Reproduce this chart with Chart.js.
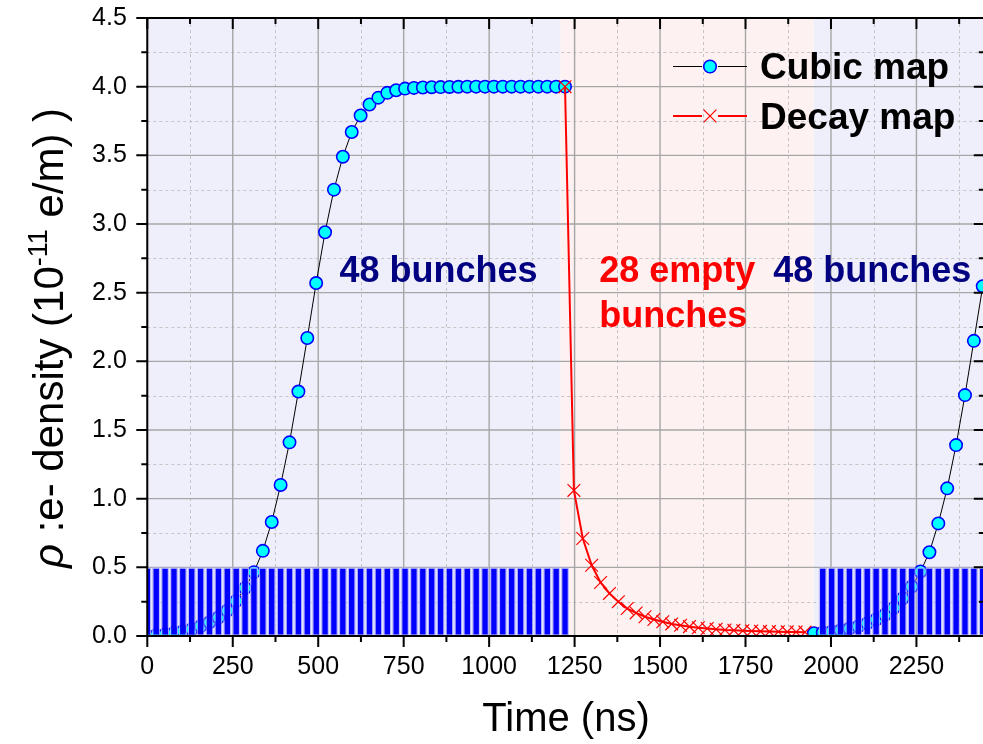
<!DOCTYPE html>
<html>
<head>
<meta charset="utf-8">
<script src="https://cdn.jsdelivr.net/npm/chart.js@4.4.1/dist/chart.umd.min.js"></script>
<style>
  html, body { margin: 0; padding: 0; background: #ffffff; overflow: hidden; }
  #wrap { width: 983px; height: 744px; overflow: hidden; position: relative; }
  canvas { display: block; }
</style>
</head>
<body>
<div id="wrap"><canvas id="chart" width="995" height="744" style="width:995px;height:744px"></canvas></div>
<script>
// ---- Axis ticks ----
const xTicks = [0, 250, 500, 750, 1000, 1250, 1500, 1750, 2000, 2250];
const yTicks = [0, 0.5, 1.0, 1.5, 2.0, 2.5, 3.0, 3.5, 4.0, 4.5];

// ---- Filled bunch slots (ns) and their marker height ----
const bunchTimesFirst = [0, 26, 52, 78, 104, 130, 156, 182, 208, 234, 260, 286, 312, 338, 364, 390,
  416, 442, 468, 494, 520, 546, 572, 598, 624, 650, 676, 702, 728, 754, 780, 806,
  832, 858, 884, 910, 936, 962, 988, 1014, 1040, 1066, 1092, 1118, 1144, 1170, 1196, 1222];
const bunchLevelsFirst = [0.5, 0.5, 0.5, 0.5, 0.5, 0.5, 0.5, 0.5, 0.5, 0.5, 0.5, 0.5, 0.5, 0.5, 0.5, 0.5,
  0.5, 0.5, 0.5, 0.5, 0.5, 0.5, 0.5, 0.5, 0.5, 0.5, 0.5, 0.5, 0.5, 0.5, 0.5, 0.5,
  0.5, 0.5, 0.5, 0.5, 0.5, 0.5, 0.5, 0.5, 0.5, 0.5, 0.5, 0.5, 0.5, 0.5, 0.5, 0.5];
const bunchTimesSecond = [1976, 2002, 2028, 2054, 2080, 2106, 2132, 2158, 2184, 2210,
  2236, 2262, 2288, 2314, 2340, 2366, 2392, 2418, 2444];
const bunchLevelsSecond = [0.5, 0.5, 0.5, 0.5, 0.5, 0.5, 0.5, 0.5, 0.5, 0.5,
  0.5, 0.5, 0.5, 0.5, 0.5, 0.5, 0.5, 0.5, 0.5];

// ---- Cubic map: e- density build-up during the bunch trains ----
const cubicTimesFirst = bunchTimesFirst;
const cubicValuesFirst = [0.0, 0.005, 0.012, 0.022, 0.035, 0.05, 0.072, 0.1, 0.135, 0.185, 0.255, 0.35,
  0.465, 0.62, 0.83, 1.10, 1.41, 1.78, 2.17, 2.57, 2.94, 3.25, 3.49, 3.67,
  3.79, 3.87, 3.92, 3.955, 3.974, 3.986, 3.991, 3.994, 3.996, 3.997, 3.998, 3.999,
  4.0, 4.0, 4.0, 4.0, 4.0, 4.0, 4.0, 4.0, 4.0, 4.0, 4.0, 4.0];
const cubicTimesSecond = [1950, 1976, 2002, 2028, 2054, 2080, 2106, 2132, 2158, 2184,
  2210, 2236, 2262, 2288, 2314, 2340, 2366, 2392, 2418, 2444];
const cubicValuesSecond = [0.02, 0.025, 0.032, 0.042, 0.055, 0.07, 0.092, 0.12, 0.155, 0.205,
  0.275, 0.36, 0.47, 0.61, 0.82, 1.075, 1.39, 1.754, 2.149, 2.547];

// ---- Decay map: density decay over the empty bunch slots ----
const decayTimes = [1222, 1248, 1274, 1300, 1326, 1352, 1378, 1404, 1430, 1456, 1482, 1508, 1534, 1560,
  1586, 1612, 1638, 1664, 1690, 1716, 1742, 1768, 1794, 1820, 1846, 1872, 1898, 1924];
const decayValues = [4.0, 1.06, 0.71, 0.515, 0.39, 0.31, 0.25, 0.20, 0.168, 0.14, 0.12, 0.104, 0.088, 0.078,
  0.068, 0.06, 0.055, 0.049, 0.044, 0.041, 0.038, 0.036, 0.034, 0.032, 0.031, 0.03, 0.029, 0.028];

// ---- Shaded regions (ns): trains and the empty gap ----
const trainSpans = [[0, 1209], [1949, 2450]];
const emptySpan = [1209, 1949];

const FONT = '"Liberation Sans", Arial, Helvetica, sans-serif';
const toPoints = (xs, ys) => xs.map((x, i) => ({ x: x, y: ys[i] }));

const decorations = {
  id: 'decorations',
  beforeDraw(chart) {
    const { ctx, chartArea: a, scales: { x } } = chart;
    ctx.save();
    ctx.fillStyle = '#EFEFFC';
    trainSpans.forEach(([s, e]) => {
      const l = Math.max(a.left, x.getPixelForValue(s));
      const r = Math.min(a.right, x.getPixelForValue(e));
      ctx.fillRect(l, a.top, r - l, a.bottom - a.top);
    });
    ctx.fillStyle = '#FDF1F1';
    const l = x.getPixelForValue(emptySpan[0]);
    const r = x.getPixelForValue(emptySpan[1]);
    ctx.fillRect(l, a.top, r - l, a.bottom - a.top);
    ctx.restore();
  },
  beforeDatasetsDraw(chart) {
    const { ctx, chartArea: a, scales: { x, y } } = chart;
    ctx.save();
    // minor grid (dotted)
    ctx.strokeStyle = '#C4C4C4';
    ctx.lineWidth = 1;
    ctx.setLineDash([3, 3]);
    for (let i = 0; i < xTicks.length; i++) {
      const v = xTicks[i] + 125;
      if (v >= x.max) break;
      const px = Math.round(x.getPixelForValue(v)) + 0.5;
      ctx.beginPath(); ctx.moveTo(px, a.top); ctx.lineTo(px, a.bottom); ctx.stroke();
    }
    for (let i = 0; i < yTicks.length - 1; i++) {
      const py = Math.round(y.getPixelForValue(yTicks[i] + 0.25)) + 0.5;
      ctx.beginPath(); ctx.moveTo(a.left, py); ctx.lineTo(a.right, py); ctx.stroke();
    }
    // major grid (solid)
    ctx.setLineDash([]);
    ctx.strokeStyle = '#A6A6A6';
    ctx.lineWidth = 1.4;
    xTicks.forEach(v => {
      const px = x.getPixelForValue(v);
      ctx.beginPath(); ctx.moveTo(px, a.top); ctx.lineTo(px, a.bottom); ctx.stroke();
    });
    yTicks.forEach(v => {
      const py = y.getPixelForValue(v);
      ctx.beginPath(); ctx.moveTo(a.left, py); ctx.lineTo(a.right, py); ctx.stroke();
    });
    ctx.restore();
  },
  afterDatasetsDraw(chart) {
    const { ctx, chartArea: a, scales: { x, y } } = chart;
    ctx.save();
    ctx.strokeStyle = '#000000';
    ctx.lineWidth = 2;
    ctx.strokeRect(a.left, a.top, a.right - a.left, a.bottom - a.top);
    const major = 11, minor = 6;
    const xt = [];
    xTicks.forEach(v => { xt.push([v, major]); if (v + 125 < x.max) xt.push([v + 125, minor]); });
    xt.forEach(([v, len]) => {
      const px = x.getPixelForValue(v);
      ctx.beginPath();
      ctx.moveTo(px, a.bottom); ctx.lineTo(px, a.bottom + len);
      ctx.moveTo(px, a.top); ctx.lineTo(px, a.top + len);
      ctx.stroke();
    });
    const yt = [];
    yTicks.forEach((v, i) => { yt.push([v, major]); if (i < yTicks.length - 1) yt.push([v + 0.25, minor]); });
    yt.forEach(([v, len]) => {
      const py = y.getPixelForValue(v);
      ctx.beginPath();
      ctx.moveTo(a.left, py); ctx.lineTo(a.left - len, py);
      ctx.moveTo(a.right, py); ctx.lineTo(a.right - len, py);
      ctx.stroke();
    });
    ctx.restore();
  },
  afterDraw(chart) {
    const { ctx, scales: { x, y } } = chart;
    ctx.save();
    ctx.fillStyle = '#000000';

    // x-axis title
    ctx.font = '40px ' + FONT;
    ctx.textAlign = 'center';
    ctx.textBaseline = 'alphabetic';
    ctx.fillText('Time (ns)', 566, 731);

    // y-axis title with superscript exponent
    const parts = [
      { t: 'ρ', f: 'italic 42px ' + FONT, rise: 0 },
      { t: ' :e- density (10', f: '42px ' + FONT, rise: 0 },
      { t: '-11', f: '27px ' + FONT, rise: 16 },
      { t: ' e/m) )', f: '42px ' + FONT, rise: 0 }
    ];
    let total = 0;
    parts.forEach(p => { ctx.font = p.f; p.w = ctx.measureText(p.t).width; total += p.w; });
    ctx.translate(63, 338);
    ctx.rotate(-Math.PI / 2);
    ctx.textAlign = 'left';
    let cx = -total / 2;
    parts.forEach(p => { ctx.font = p.f; ctx.fillText(p.t, cx, -p.rise); cx += p.w; });
    ctx.setTransform(1, 0, 0, 1, 0, 0);

    // region annotations
    const notes = [
      { t: '48 bunches', x: 562, y: 2.578, c: '#000080' },
      { t: '28 empty', x: 1322, y: 2.578, c: '#FF0000' },
      { t: 'bunches', x: 1322, y: 2.25, c: '#FF0000' },
      { t: '48 bunches', x: 1831, y: 2.578, c: '#000080' }
    ];
    ctx.font = 'bold 36px ' + FONT;
    ctx.textAlign = 'left';
    notes.forEach(n => {
      ctx.fillStyle = n.c;
      ctx.fillText(n.t, x.getPixelForValue(n.x), y.getPixelForValue(n.y));
    });

    // legend
    const rows = [
      { label: 'Cubic map', cy: 66.5, kind: 'circle' },
      { label: 'Decay map', cy: 116, kind: 'cross' }
    ];
    rows.forEach(r => {
      if (r.kind === 'circle') {
        ctx.strokeStyle = '#000000'; ctx.lineWidth = 1.2;
      } else {
        ctx.strokeStyle = '#FF0000'; ctx.lineWidth = 2;
      }
      ctx.beginPath();
      ctx.moveTo(673, r.cy); ctx.lineTo(702, r.cy);
      ctx.moveTo(718, r.cy); ctx.lineTo(747, r.cy);
      ctx.stroke();
      if (r.kind === 'circle') {
        ctx.beginPath(); ctx.arc(710, r.cy, 6.3, 0, Math.PI * 2);
        ctx.fillStyle = '#00FFFF'; ctx.fill();
        ctx.strokeStyle = '#0000FF'; ctx.lineWidth = 1.6; ctx.stroke();
      } else {
        ctx.strokeStyle = '#FF0000'; ctx.lineWidth = 1.2;
        ctx.beginPath();
        ctx.moveTo(703.6, r.cy - 6.4); ctx.lineTo(716.4, r.cy + 6.4);
        ctx.moveTo(716.4, r.cy - 6.4); ctx.lineTo(703.6, r.cy + 6.4);
        ctx.stroke();
      }
      ctx.fillStyle = '#000000';
      ctx.font = 'bold 37px ' + FONT;
      ctx.textBaseline = 'alphabetic';
      ctx.fillText(r.label, 760, r.cy + 12.5);
    });
    ctx.restore();
  }
};

// Lower "order" values are painted last (on top): bunch bars cover the curves,
// decay crosses cover the cubic circles.
const cubicStyle = {
  borderColor: '#000000',
  borderWidth: 1,
  pointStyle: 'circle',
  pointRadius: 6.2,
  pointBackgroundColor: '#00FFFF',
  pointBorderColor: '#0000FF',
  pointBorderWidth: 1.6,
  order: 2,
  clip: 0
};

new Chart(document.getElementById('chart'), {
  type: 'line',
  data: {
    datasets: [
      {
        type: 'bar',
        label: 'Bunches',
        data: [...toPoints(bunchTimesFirst, bunchLevelsFirst), ...toPoints(bunchTimesSecond, bunchLevelsSecond)],
        backgroundColor: '#0000FF',
        borderColor: 'rgba(180,180,252,0.85)',
        borderWidth: 1.4,
        borderSkipped: false,
        barPercentage: 0.93,
        categoryPercentage: 1.0,
        order: 0,
        clip: 0
      },
      {
        label: 'Decay map',
        data: toPoints(decayTimes, decayValues),
        borderColor: '#FF0000',
        borderWidth: 2,
        pointStyle: 'crossRot',
        pointRadius: 9,
        pointBorderColor: '#FF0000',
        pointBackgroundColor: '#FF0000',
        pointBorderWidth: 1.2,
        order: 1,
        clip: 0
      },
      Object.assign({ label: 'Cubic map', data: toPoints(cubicTimesFirst, cubicValuesFirst) }, cubicStyle),
      Object.assign({ label: 'Cubic map', data: toPoints(cubicTimesSecond, cubicValuesSecond) }, cubicStyle)
    ]
  },
  options: {
    responsive: false,
    animation: false,
    devicePixelRatio: 1,
    events: [],
    layout: { padding: { top: 18, right: 7.8, left: 0, bottom: 0 } },
    plugins: { legend: { display: false }, tooltip: { enabled: false } },
    scales: {
      x: {
        type: 'linear',
        offset: false,
        min: 0,
        max: 2450,
        afterFit: s => { s.height = 108; s.paddingLeft = 0; s.paddingRight = 0; },
        afterBuildTicks: s => { s.ticks = xTicks.map(v => ({ value: v })); },
        ticks: {
          includeBounds: false,
          autoSkip: false,
          maxRotation: 0,
          padding: 16,
          color: '#000000',
          font: { family: FONT, size: 25 },
          callback: v => String(v)
        },
        grid: { display: false, drawTicks: false, offset: false },
        border: { display: false }
      },
      y: {
        type: 'linear',
        min: 0,
        max: 4.5,
        afterFit: s => { s.width = 147.3; s.paddingTop = 0; s.paddingBottom = 0; },
        afterBuildTicks: s => { s.ticks = yTicks.map(v => ({ value: v })); },
        ticks: {
          padding: 20.5,
          color: '#000000',
          font: { family: FONT, size: 25 },
          callback: v => Number(v).toFixed(1)
        },
        grid: { display: false, drawTicks: false },
        border: { display: false }
      }
    }
  },
  plugins: [decorations]
});
</script>
</body>
</html>
